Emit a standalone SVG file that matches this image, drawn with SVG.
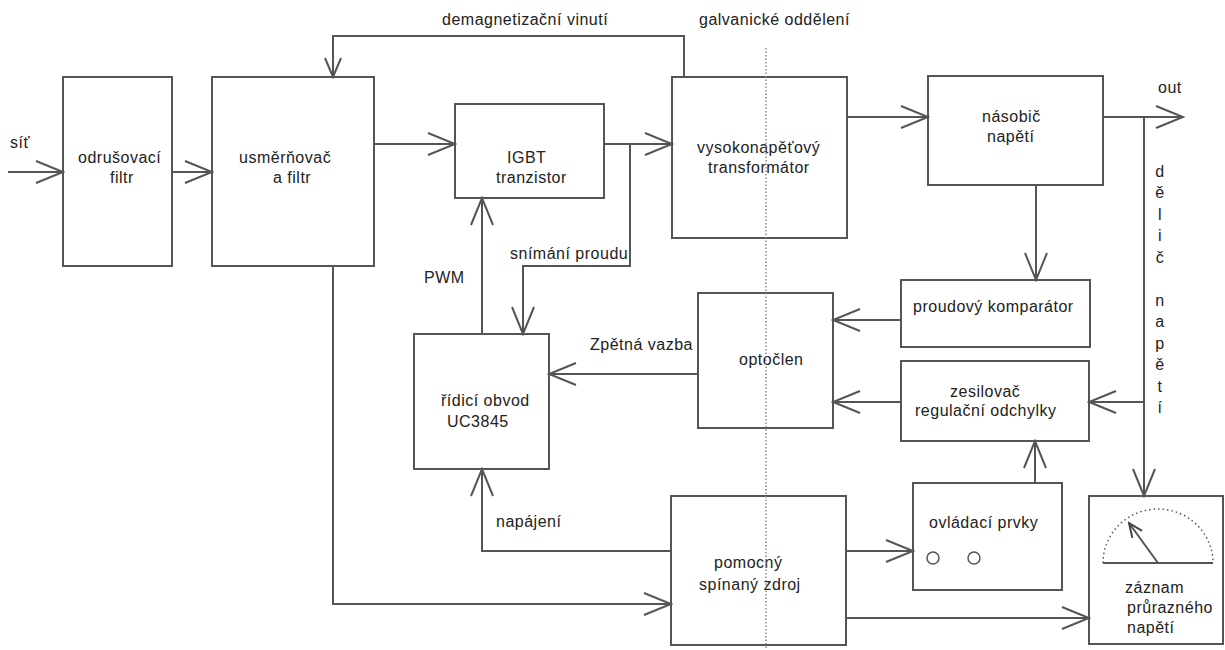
<svg xmlns="http://www.w3.org/2000/svg" width="1225" height="650" viewBox="0 0 1225 650">
<style>
.box{fill:none;stroke:#555;stroke-width:2}
.ln{fill:none;stroke:#555;stroke-width:2;marker-end:url(#arr)}
.ln2{fill:none;stroke:#555;stroke-width:2}
text{font-family:"Liberation Sans",Arial,sans-serif;font-size:16px;letter-spacing:0.5px;fill:#222}
.dot{fill:none;stroke:#888;stroke-width:1.5;stroke-dasharray:1.5 2}
.arc{fill:none;stroke:#555;stroke-width:1.5;stroke-dasharray:1.5 3}
</style>
<defs>
<marker id="arr" viewBox="-29 -13 31 26" refX="0" refY="0" markerWidth="31" markerHeight="26" markerUnits="userSpaceOnUse" orient="auto">
<path d="M-27,-11 L0,0 L-27,11" fill="none" stroke="#555" stroke-width="2"/>
</marker>
<marker id="arrS" viewBox="-22 -10 24 20" refX="0" refY="0" markerWidth="24" markerHeight="20" markerUnits="userSpaceOnUse" orient="auto">
<path d="M-19,-8 L0,0 L-19,8" fill="none" stroke="#555" stroke-width="2"/>
</marker>
<marker id="arrN" viewBox="-16 -8 18 16" refX="0" refY="0" markerWidth="18" markerHeight="16" markerUnits="userSpaceOnUse" orient="auto">
<path d="M-14,-6 L0,0 L-14,6" fill="none" stroke="#444" stroke-width="2"/>
</marker>
</defs>
<rect width="1225" height="650" fill="#fff"/>

<g id="connectors">
<path class="ln" d="M8,172 H63"/>
<path class="ln" d="M172,172 H212"/>
<path class="ln" d="M374,144 H455"/>
<path class="ln" d="M604,144 H672"/>
<path class="ln" d="M630,144 V266 H523 V334"/>
<path class="ln" d="M482,334 V198"/>
<path class="ln2" d="M684,77 V36 H333 V77" style="marker-end:url(#arrS)"/>
<path class="ln" d="M847,117 H928"/>
<path class="ln" d="M1103,117 H1183"/>
<path class="ln" d="M1144,117 V496"/>
<path class="ln" d="M1144,402 H1089"/>
<path class="ln" d="M1036,185 V280"/>
<path class="ln" d="M901,320 H833"/>
<path class="ln" d="M901,402 H833"/>
<path class="ln" d="M698,374 H549"/>
<path class="ln" d="M671,551 H482 V469"/>
<path class="ln" d="M333,266 V604 H671"/>
<path class="ln" d="M846,551 H913"/>
<path class="ln" d="M1035,483 V441"/>
<path class="ln" d="M846,618 H1089"/>
</g>

<g id="input-label"><text x="10" y="148">síť</text></g>

<g id="odrusovaci">
<rect class="box" x="63" y="77" width="109" height="189"/>
<text x="78" y="163">odrušovací</text>
<text x="110" y="183">filtr</text>
</g>

<g id="usmernovac">
<rect class="box" x="212" y="77" width="162" height="189"/>
<text x="239" y="163">usměrňovač</text>
<text x="273" y="183">a filtr</text>
</g>

<g id="igbt">
<rect class="box" x="455" y="104" width="149" height="94"/>
<text x="507" y="163">IGBT</text>
<text x="496" y="183">tranzistor</text>
</g>

<g id="transformator">
<rect class="box" x="672" y="77" width="175" height="161"/>
<text x="697" y="153">vysokonapěťový</text>
<text x="708" y="173">transformátor</text>
</g>

<g id="nasobic">
<rect class="box" x="928" y="76" width="175" height="109"/>
<text x="982" y="122">násobič</text>
<text x="987" y="142">napětí</text>
</g>

<g id="proudovy">
<rect class="box" x="901" y="280" width="189" height="67"/>
<text x="913" y="312">proudový komparátor</text>
</g>

<g id="zesilovac">
<rect class="box" x="901" y="361" width="188" height="80"/>
<text x="950" y="397">zesilovač</text>
<text x="915" y="416">regulační odchylky</text>
</g>

<g id="optoclen">
<rect class="box" x="698" y="293" width="135" height="135"/>
<text x="739" y="365">optočlen</text>
</g>

<g id="ridici">
<rect class="box" x="414" y="334" width="135" height="135"/>
<text x="441" y="406">řídicí obvod</text>
<text x="447" y="427">UC3845</text>
</g>

<g id="pomocny">
<rect class="box" x="671" y="496" width="175" height="149"/>
<text x="714" y="568">pomocný</text>
<text x="699" y="590">spínaný zdroj</text>
</g>

<g id="ovladaci">
<rect class="box" x="913" y="483" width="149" height="107"/>
<text x="929" y="528">ovládací prvky</text>
<circle cx="933" cy="558" r="6" fill="none" stroke="#555" stroke-width="1.5"/>
<circle cx="974" cy="558" r="6" fill="none" stroke="#555" stroke-width="1.5"/>
</g>

<g id="zaznam">
<rect class="box" x="1089" y="496" width="134" height="148"/>
<path class="arc" d="M1103,563 A55,54 0 0 1 1213,563"/>
<path class="ln2" d="M1103,563 H1213"/>
<path class="ln2" d="M1158,563 L1129,523" style="marker-end:url(#arrN)"/>
<text x="1125" y="593">záznam</text>
<text x="1127" y="613">průrazného</text>
<text x="1127" y="633">napětí</text>
</g>

<g id="labels">
<text x="442" y="25">demagnetizační vinutí</text>
<text x="699" y="25">galvanické oddělení</text>
<text x="1158" y="93">out</text>
<text x="424" y="283">PWM</text>
<text x="510" y="259">snímání proudu</text>
<text x="590" y="350">Zpětná vazba</text>
<text x="496" y="527">napájení</text>
<g text-anchor="middle">
<text x="1160" y="177">d</text>
<text x="1160" y="198">ě</text>
<text x="1160" y="220">l</text>
<text x="1160" y="241">i</text>
<text x="1160" y="263">č</text>
<text x="1160" y="306">n</text>
<text x="1160" y="327">a</text>
<text x="1160" y="349">p</text>
<text x="1160" y="370">ě</text>
<text x="1160" y="392">t</text>
<text x="1160" y="413">í</text>
</g>
</g>

<path id="galvanic-separation" class="dot" d="M766,48 V650"/>
</svg>
